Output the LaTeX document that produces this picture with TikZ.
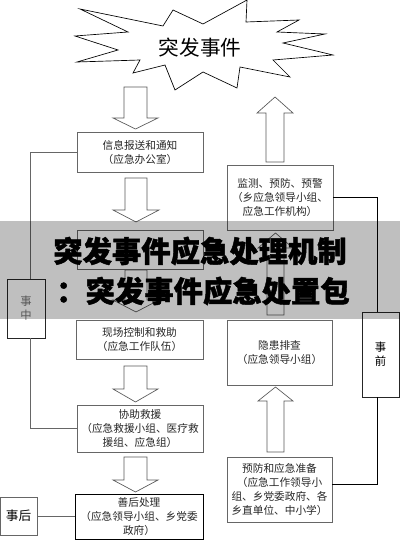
\documentclass[tikz,border=0pt]{standalone}
\usepackage{fontspec}
\newfontfamily\cjk{Noto Sans CJK SC}
\newfontfamily\cjkheavy[BoldFeatures={FakeBold=1.5}]{Noto Sans CJK SC}
\usetikzlibrary{calc}
\newcommand\bdarrow[6]{% shaft left, shaft right, tail y, head base y, tip y, head overhang
  \draw[blockarrow] (#1,#3) -- (#1,#4) -- ({#1-#6},#4) -- ({(#1+#2)/2},#5) -- ({#2+#6},#4) -- (#2,#4) -- (#2,#3) -- cycle;}
\begin{document}
\begin{tikzpicture}[x=0.75pt,y=-0.75pt,
  box/.style={draw=black!60, line width=0.5pt, fill=white, inner sep=0pt, align=center,
    font=\cjk\fontsize{8}{10.5}\selectfont, text=black!85},
  sidebox/.style={draw=black!85, line width=0.6pt, fill=white, inner sep=0pt, align=center,
    font=\cjk\fontsize{8.5}{10.5}\selectfont},
  blockarrow/.style={draw=black!65, line width=0.5pt, fill=white},
  link/.style={draw=black!60, line width=0.5pt},
  darklink/.style={draw=black, line width=0.6pt},
  banner/.style={font=\cjkheavy\bfseries\fontsize{22}{26}\selectfont, inner sep=0pt}]
\useasboundingbox (0,0) rectangle (400,541);
\fill[white] (0,0) rectangle (400,541);

% starburst
\draw[line width=0.5pt, fill=white] (80,9) -- (163,26) -- (173,10) -- (203,24) -- (247,0) -- (246,22)
  -- (299,20) -- (277,32) -- (325,34) -- (283,43) -- (333,55) -- (273,60) -- (290,77) -- (240,67)
  -- (237,88) -- (203,72) -- (175,90) -- (165,65) -- (133,73) -- (140,60) -- (77,62) -- (118,50)
  -- (75,36) -- (128,32) -- cycle;
\node[font=\cjk\fontsize{15.5}{18}\selectfont, inner sep=0pt] (ev) at (200,48) {突发事件};

% left column boxes
\node[box, minimum width=126*0.75pt, minimum height=40*0.75pt] (b1) at (140,152) {信息报送和通知\\（应急办公室）};
\node[box, minimum width=126*0.75pt, minimum height=39*0.75pt] (b2) at (140,249.5) {};
\node[box, minimum width=127*0.75pt, minimum height=39*0.75pt] (b3) at (139.5,339.5) {现场控制和救助\\（应急工作队伍）};
\node[box, minimum width=126*0.75pt, minimum height=47*0.75pt] (b4) at (140,428.5) {协助救援\\（应急救援小组、医疗救\\援组、应急组）};
\node[box, draw=black, line width=0.7pt, minimum width=128*0.75pt, minimum height=45*0.75pt] (b5) at (139,517) {善后处理\\（应急领导小组、乡党委\\政府）};

% right column boxes
\node[box, minimum width=106*0.75pt, minimum height=65*0.75pt] (r1) at (280,197.5) {监测、预防、预警\\（乡应急领导小组、\\应急工作机构）};
\node[box, minimum width=105*0.75pt, minimum height=65*0.75pt] (r2) at (279.5,352.5) {隐患排查\\（应急领导小组）};
\node[box, minimum width=105*0.75pt, minimum height=65*0.75pt] (r3) at (279.5,489.5) {预防和应急准备\\（应急工作领导小\\组、乡党委政府、各\\乡直单位、中小学）};

% side labels
\node[sidebox, text=black!55, minimum width=38*0.75pt, minimum height=59*0.75pt] (zz) at (26,308.5) {事\\中};
\node[sidebox, minimum width=37*0.75pt, minimum height=85*0.75pt] (sq) at (380.5,354.5) {事\\前};
\node[sidebox, draw=black!60, line width=0.5pt, font=\cjk\fontsize{9.5}{11}\selectfont, minimum width=37*0.75pt, minimum height=38*0.75pt] (sh) at (18.5,516) {事后};

% connectors
\draw[link] ([xshift=3pt]zz.north) |- (b1.west);
\draw[link] ([xshift=3pt]zz.south) |- (b4.west);
\draw[darklink] ([xshift=-2pt]sq.north) |- (r1.east);
\draw[darklink] ([xshift=-2pt]sq.south) |- ($(r3.east)+(0,-5.5)$);
\draw[link] (sh.east) -- (sh.east -| b5.west);

% block arrows down (left)
\bdarrow{124}{147}{87}{118}{129}{11}
\bdarrow{125}{147}{178}{210}{222}{12}
\bdarrow{125}{147}{270}{300}{312}{12}
\bdarrow{124}{147}{366}{389}{402}{11}
\bdarrow{124}{147}{457}{480}{492}{11}
% block arrows up (right)
\bdarrow{266}{284}{162}{113}{97}{9}
\bdarrow{267}{284}{315}{248}{233}{9}
\bdarrow{267}{284}{452}{401}{387}{9}

% overlay banner
\fill[black, opacity=0.25] (0,221) rectangle (400,319);
\node[banner] (t1) at (200,251) {突发事件应急处理机制};
\node[banner] (t2) at (203,291) {：突发事件应急处置包};
\end{tikzpicture}
\end{document}
